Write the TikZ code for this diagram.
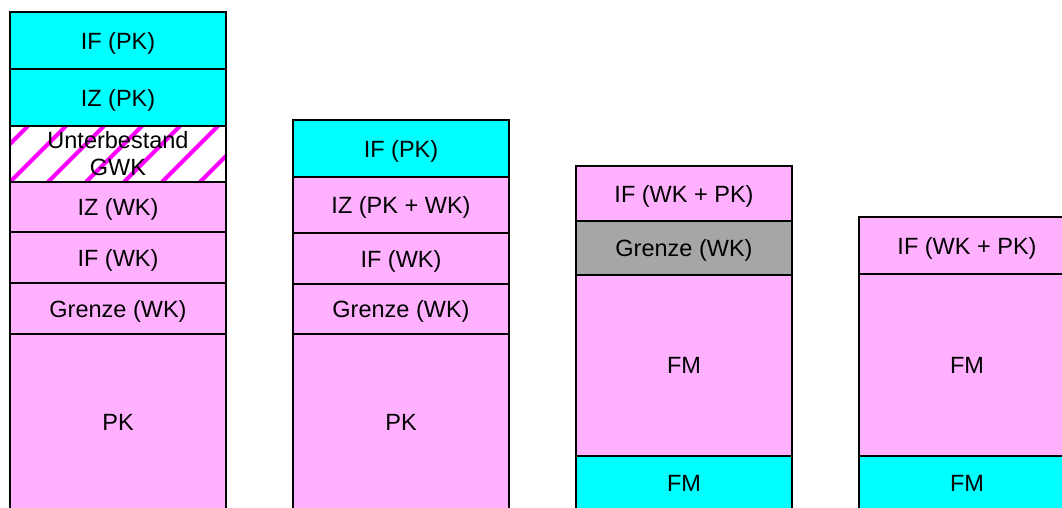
\documentclass[tikz,border=0pt]{standalone}
\usepackage{fontspec}
\setmainfont{Liberation Sans}
\usepackage{tikz}

\definecolor{ifcyan}{RGB}{0,255,255}
\definecolor{wkpink}{RGB}{255,176,255}
\definecolor{limitgray}{RGB}{166,166,166}
\definecolor{hatchmag}{RGB}{255,0,255}

\begin{document}
\begin{tikzpicture}[x=1pt, y=-1pt, every node/.style={font=\fontsize{23.5}{27}\selectfont},
    cell/.style={draw, line width=1.4pt, anchor=north west, minimum width=216pt, inner sep=0pt, outer sep=0pt, text depth=0pt}]
            \useasboundingbox (0,0) rectangle (1062,508);
            % first column
            \node[cell, fill=ifcyan, minimum height=57pt] (a1) at (10,12) {IF (PK)};
            \node[cell, fill=ifcyan, minimum height=57pt] (a2) at (a1.south west) {IZ (PK)};
            \node[cell, fill=white, minimum height=56pt] (a3) at (a2.south west) {};
            \node[cell, fill=wkpink, minimum height=50pt] (a4) at (a3.south west) {IZ (WK)};
            \node[cell, fill=wkpink, minimum height=51pt] (a5) at (a4.south west) {IF (WK)};
            \node[cell, fill=wkpink, minimum height=51pt] (a6) at (a5.south west) {Grenze (WK)};
            \node[cell, fill=wkpink, minimum height=176pt] (a7) at (a6.south west) {PK};
            \begin{scope}
                \clip (a3.north west) rectangle (a3.south east);
                \foreach \x in {-66,-28,...,240}
                    \draw[hatchmag, line width=4.2pt] (\x,182) -- ++(56,-56); % stripes
            \end{scope}
            \draw[line width=1.4pt] (a3.north west) rectangle (a3.south east);
            \node[align=center] (a3t) at (a3) {Unterbestand\\GWK};
            % second column
            \node[cell, fill=ifcyan, minimum height=57pt] (b1) at (293,120) {IF (PK)};
            \node[cell, fill=wkpink, minimum height=56pt] (b2) at (b1.south west) {IZ (PK + WK)};
            \node[cell, fill=wkpink, minimum height=51pt] (b3) at (b2.south west) {IF (WK)};
            \node[cell, fill=wkpink, minimum height=50pt] (b4) at (b3.south west) {Grenze (WK)};
            \node[cell, fill=wkpink, minimum height=176pt] (b5) at (b4.south west) {PK};
            % third column
            \node[cell, fill=wkpink, minimum height=55pt] (c1) at (576,166) {IF (WK + PK)};
            \node[cell, fill=limitgray, minimum height=54pt] (c2) at (c1.south west) {Grenze (WK)};
            \node[cell, fill=wkpink, minimum height=181pt] (c3) at (c2.south west) {FM};
            \node[cell, fill=ifcyan, minimum height=54pt] (c4) at (c3.south west) {FM};
            % fourth column
            \node[cell, fill=wkpink, minimum height=57pt] (d1) at (859,217) {IF (WK + PK)};
            \node[cell, fill=wkpink, minimum height=182pt] (d2) at (d1.south west) {FM};
            \node[cell, fill=ifcyan, minimum height=54pt] (d3) at (d2.south west) {FM};
\end{tikzpicture}
\end{document}
